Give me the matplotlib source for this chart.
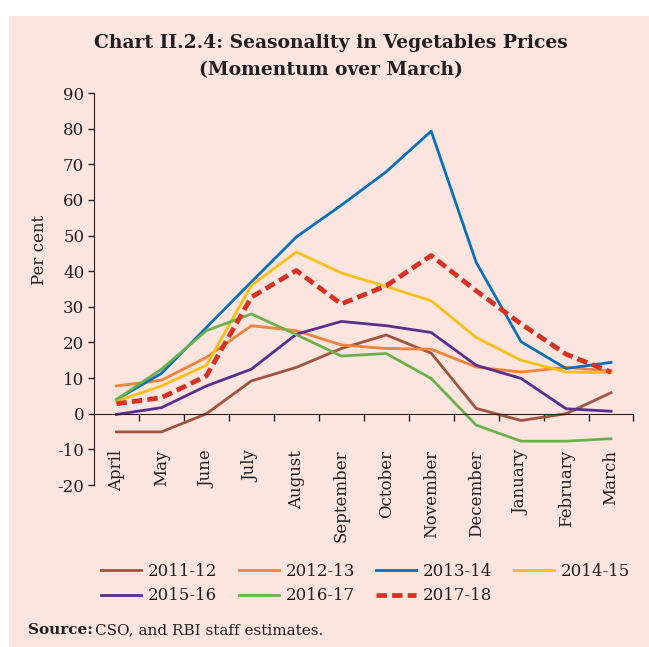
import numpy as np
import matplotlib
matplotlib.use("Agg")
import matplotlib.pyplot as plt
from matplotlib.patches import Rectangle

# momentum over March, per cent
MONTHS = ["April", "May", "June", "July", "August", "September", "October",
          "November", "December", "January", "February", "March"]

Y2011_12 = [-5.1, -5.1, 0.0, 9.2, 13.0, 18.3, 22.1, 17.0, 1.5, -1.9, 0.0, 5.9]
Y2012_13 = [7.8, 9.4, 15.8, 24.7, 23.3, 19.3, 18.3, 18.1, 13.1, 11.7, 13.0, 12.0]
Y2013_14 = [4.0, 11.3, 24.2, 37.0, 49.6, 58.5, 67.9, 79.3, 42.5, 20.2, 12.7, 14.4]
Y2014_15 = [3.5, 7.8, 13.6, 36.0, 45.4, 39.5, 35.7, 31.7, 21.4, 15.0, 11.7, 11.5]
Y2015_16 = [-0.2, 1.7, 7.8, 12.5, 22.3, 25.9, 24.7, 22.8, 13.6, 9.9, 1.4, 0.7]
Y2016_17 = [4.0, 12.5, 23.3, 28.0, 22.2, 16.2, 16.9, 9.9, -3.2, -7.7, -7.7, -7.0]
Y2017_18 = [2.8, 4.5, 10.6, 32.7, 40.2, 30.8, 35.9, 44.4, 34.5, 25.2, 16.7, 11.7]

SERIES = [
    ("2011-12", Y2011_12, "#a0543e", "-"),
    ("2012-13", Y2012_13, "#f5843a", "-"),
    ("2013-14", Y2013_14, "#0a6fb8", "-"),
    ("2014-15", Y2014_15, "#fdbf14", "-"),
    ("2015-16", Y2015_16, "#5c2d91", "-"),
    ("2016-17", Y2016_17, "#6ab14a", "-"),
    ("2017-18", Y2017_18, "#d63122", "--"),
]

BG = "#fde5df"
INK = "#231f20"

plt.rcParams["font.family"] = ["DejaVu Serif"]
plt.rcParams["axes.unicode_minus"] = False

fig = plt.figure(figsize=(6.49, 6.47), dpi=100)
fig.patch.set_facecolor("white")
fig.patches.append(Rectangle((9 / 649, 0), 1 - 9 / 649, 1 - 16 / 647,
                             transform=fig.transFigure, facecolor=BG,
                             edgecolor="none", zorder=-10))

ax = fig.add_axes([94 / 649, 162 / 647, 539.5 / 649, 392 / 647])
ax.set_facecolor("none")

x = np.arange(len(MONTHS))
handles = []
for label, vals, col, ls in SERIES:
    if ls == "--":
        (h,) = ax.plot(x, vals, color=col, lw=3.4, dashes=(2.2, 1.1),
                       label=label, solid_capstyle="butt")
    else:
        (h,) = ax.plot(x, vals, color=col, lw=2.0, label=label)
    handles.append(h)

ax.set_xlim(-0.5, 11.5)
ax.set_ylim(-20, 90)
ax.set_yticks(np.arange(-20, 91, 10))
ax.tick_params(axis="y", direction="out", length=4, width=1, color=INK,
               labelsize=12, labelcolor=INK, pad=3)

ax.spines[["top", "right"]].set_visible(False)
ax.spines["left"].set_color(INK)
ax.spines["bottom"].set_color(INK)
ax.spines["bottom"].set_position(("data", 0))

ax.set_xticks(x)
ax.set_xticklabels(MONTHS, rotation=90, fontsize=12, color=INK)
ax.tick_params(axis="x", which="major", length=0, pad=26)
ax.set_xticks(np.arange(0.5, 12, 1), minor=True)
ax.tick_params(axis="x", which="minor", direction="out", length=5, width=1,
               color=INK)

fig.text(40 / 649, 1 - 250 / 647, "Per cent", rotation=90, ha="center",
         va="center", fontsize=12, color=INK)

fig.text(331 / 649, 1 - 43 / 647, "Chart II.2.4: Seasonality in Vegetables Prices",
         ha="center", va="center", fontsize=13.5, fontweight="bold", color=INK)
fig.text(331 / 649, 1 - 70 / 647, "(Momentum over March)",
         ha="center", va="center", fontsize=13.5, fontweight="bold", color=INK)

# matplotlib fills legend columns first; reorder so rows read across
order = [0, 4, 1, 5, 2, 6, 3]
fig.legend(handles=[handles[i] for i in order], loc="upper left", ncol=4,
           frameon=False, bbox_to_anchor=(86 / 649, 1 - 548 / 647), fontsize=12,
           handlelength=2.4, handletextpad=0.4, columnspacing=1.3,
           labelspacing=0.45, labelcolor=INK)

fig.text(28 / 649, 1 - 630 / 647, "Source:", fontweight="bold", fontsize=11,
         va="center", color=INK)
fig.text(95 / 649, 1 - 630 / 647, "CSO, and RBI staff estimates.", fontsize=11,
         va="center", color=INK)

fig.savefig("out.png", dpi=100)
